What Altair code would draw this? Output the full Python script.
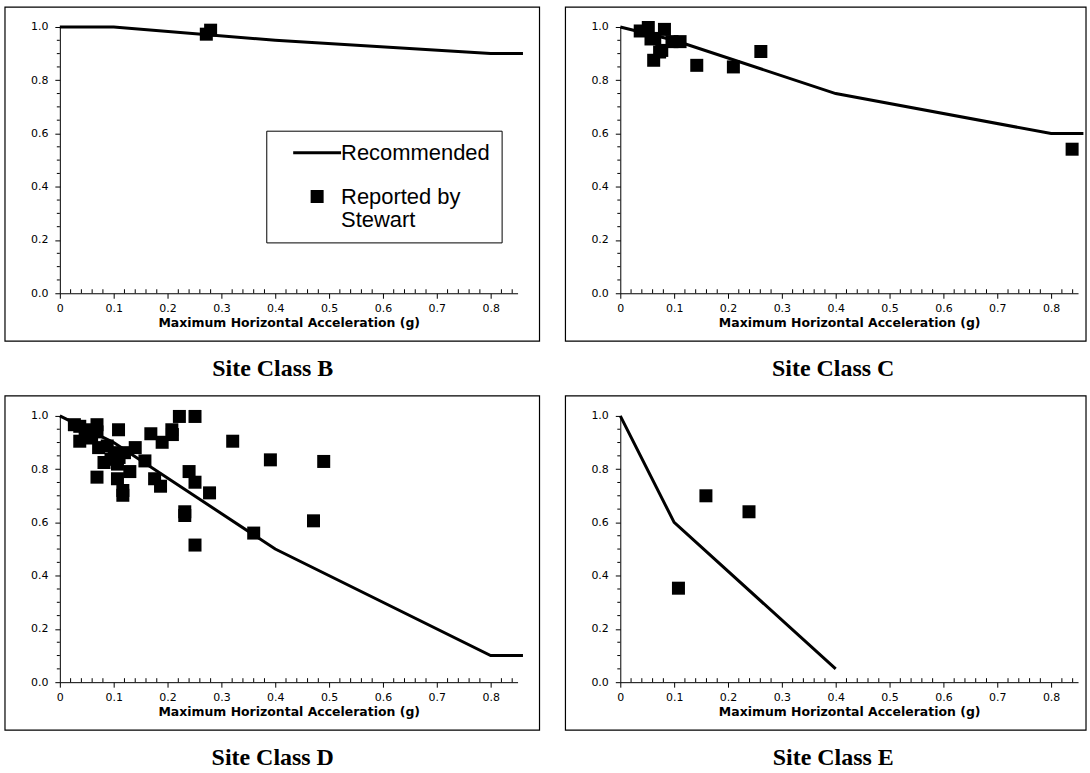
import altair as alt
import pandas as pd

# ---------------- data ----------------
line_x = [0.0, 0.1, 0.4, 0.8, 0.86]
line_B = [1.0, 1.0, 0.95, 0.90, 0.90]
line_C = [1.0, 0.95, 0.75, 0.60, 0.60]
line_D = [1.0, 0.90, 0.50, 0.10, 0.10]
line_x_E = [0.0, 0.1, 0.4]
line_E = [1.0, 0.60, 0.05]

pts_B_x = [0.272, 0.280]
pts_B_y = [0.973, 0.988]

pts_C_x = [0.037, 0.052, 0.082, 0.057, 0.064, 0.062, 0.073, 0.077, 0.096, 0.111, 0.142, 0.210, 0.261, 0.839]
pts_C_y = [0.985, 0.998, 0.991, 0.955, 0.957, 0.875, 0.906, 0.912, 0.945, 0.945, 0.856, 0.850, 0.908, 0.541]

pts_D_x = [0.027, 0.037, 0.037, 0.047, 0.053, 0.059, 0.069, 0.069, 0.069, 0.072, 0.082, 0.088,
           0.095, 0.101, 0.107, 0.107, 0.109, 0.110, 0.117, 0.117, 0.120, 0.130, 0.140, 0.158,
           0.169, 0.176, 0.187, 0.190, 0.208, 0.209, 0.222, 0.232, 0.232, 0.240, 0.251, 0.251,
           0.251, 0.278, 0.321, 0.360, 0.391, 0.471, 0.490]
pts_D_y = [0.967, 0.961, 0.905, 0.924, 0.948, 0.917, 0.967, 0.940, 0.770, 0.881, 0.825, 0.887,
           0.837, 0.862, 0.764, 0.819, 0.948, 0.844, 0.702, 0.720, 0.862, 0.791, 0.881, 0.831,
           0.933, 0.764, 0.736, 0.901, 0.948, 0.930, 0.998, 0.640, 0.626, 0.791, 0.751, 0.998,
           0.515, 0.711, 0.905, 0.560, 0.835, 0.606, 0.829]

pts_E_x = [0.108, 0.159, 0.239]
pts_E_y = [0.353, 0.700, 0.640]

x_title = "Maximum Horizontal Acceleration (g)"
legend_labels = ["Recommended", "Reported by Stewart"]

# axis ticks
x_major = [0.0, 0.1, 0.2, 0.3, 0.4, 0.5, 0.6, 0.7, 0.8]
y_major = [0.0, 0.2, 0.4, 0.6, 0.8, 1.0]
x_minor = [0.02, 0.04, 0.06, 0.08, 0.12, 0.14, 0.16, 0.18, 0.22, 0.24, 0.26, 0.28,
           0.32, 0.34, 0.36, 0.38, 0.42, 0.44, 0.46, 0.48, 0.52, 0.54, 0.56, 0.58,
           0.62, 0.64, 0.66, 0.68, 0.72, 0.74, 0.76, 0.78, 0.82, 0.84]
y_minor = [0.05, 0.1, 0.15, 0.25, 0.3, 0.35, 0.45, 0.5, 0.55, 0.65, 0.7, 0.75, 0.85, 0.9, 0.95]

W, H = 459, 267
TICK_FONT = "DejaVu Sans"

x_axis = alt.Axis(
    values=x_major,
    labelExpr="datum.value == 0 ? '0' : format(datum.value, '.1f')",
    tickSize=5, grid=False, domainColor="black", tickColor="black", labelColor="black",
    labelFont=TICK_FONT, labelFontSize=11, labelPadding=4, labelOverlap=False,
    title=x_title, titleFont=TICK_FONT, titleFontSize=12.5, titleFontWeight="bold",
    titleColor="black", titlePadding=3, labelFlush=False,
)
y_axis = alt.Axis(
    values=y_major, format=".1f",
    tickSize=5, grid=False, domainColor="black", tickColor="black", labelColor="black",
    labelFont=TICK_FONT, labelFontSize=11, labelPadding=7, labelOverlap=False, title=None,
)

xs = alt.Scale(domain=[0, 0.85], nice=False, zero=False)
ys = alt.Scale(domain=[0, 1.0], nice=False)

LEG = dict(
    title=None, orient="none", legendX=207, legendY=104,
    strokeColor="black", padding=11, fillColor="white",
    symbolOpacity=1, symbolFillColor="black", symbolStrokeColor="black",
    symbolStrokeWidth=0, symbolOffset=29,
    labelFont="Liberation Sans", labelFontSize=22,
    labelColor="black", labelLimit=300, rowPadding=22, labelOffset=13,
    labelExpr="datum.label == 'Reported by Stewart' ? ['Reported by', 'Stewart'] : datum.label",
)


def panel(lx, ly, px, py, name, legend=False, right_pad=22):
    ldf = pd.DataFrame({"x": lx, "y": ly})
    pdf = pd.DataFrame({"x": px, "y": py})
    frame = alt.Chart(alt.Data(values=[{}])).mark_rect(
        fill="white", fillOpacity=0, stroke="black", strokeWidth=1.2
    ).encode(
        x=alt.value(-55), x2=alt.value(W + right_pad),
        y=alt.value(-20), y2=alt.value(H + 48),
    )
    line = alt.Chart(ldf).mark_line(color="black", strokeWidth=3, clip=False).encode(
        x=alt.X("x:Q", scale=xs, axis=x_axis),
        y=alt.Y("y:Q", scale=ys, axis=y_axis),
    )
    xmin = alt.Chart(pd.DataFrame({"t": x_minor})).mark_rule(color="black", strokeWidth=1).encode(
        x=alt.X("t:Q", scale=xs), y=alt.value(H), y2=alt.value(H - 4)
    )
    ymin = alt.Chart(pd.DataFrame({"t": y_minor})).mark_rule(color="black", strokeWidth=1).encode(
        y=alt.Y("t:Q", scale=ys), x=alt.value(0), x2=alt.value(-3)
    )
    pts = alt.Chart(pdf).mark_square(color="black", size=170, opacity=1).encode(
        x=alt.X("x:Q", scale=xs), y=alt.Y("y:Q", scale=ys)
    )
    layers = [frame, line, xmin, ymin, pts]
    if legend:
        leg_df = pd.DataFrame({"series": legend_labels})
        leg = alt.Chart(leg_df).mark_point(
            opacity=0, filled=True, fill="black"
        ).encode(
            x=alt.value(0), y=alt.value(0),
            shape=alt.Shape("series:N",
                            scale=alt.Scale(domain=legend_labels,
                                            range=["M-2.4,-0.15H2.4V0.15H-2.4Z", "square"]),
                            legend=alt.Legend(**LEG)),
            size=alt.Size("series:N", scale=alt.Scale(domain=legend_labels, range=[400, 170]),
                          legend=alt.Legend(**LEG)),
        )
        layers.append(leg)
    return alt.layer(*layers).properties(
        width=W, height=H,
        view=alt.ViewBackground(stroke="transparent", strokeWidth=0),
        title=alt.TitleParams(name, orient="bottom", font="Liberation Serif", fontSize=24,
                              fontWeight="bold", color="black", offset=15, dx=-16),
    )


pB = panel(line_x, line_B, pts_B_x, pts_B_y, "Site Class B", legend=True)
pC = panel(line_x, line_C, pts_C_x, pts_C_y, "Site Class C", right_pad=8)
pD = panel(line_x, line_D, pts_D_x, pts_D_y, "Site Class D")
pE = panel(line_x_E, line_E, pts_E_x, pts_E_y, "Site Class E", right_pad=8)

row1 = alt.hconcat(pB, pC, spacing=24)
row2 = alt.hconcat(pD, pE, spacing=24)
chart = alt.vconcat(row1, row2, spacing=14).resolve_scale(
    shape="independent", size="independent"
).resolve_legend(shape="independent", size="independent").configure_view(
    stroke="transparent", strokeWidth=0
).configure(
    background="white", padding={"left": 4, "top": 5, "right": 0, "bottom": 0}
)

chart.save("out.html", embed_options={"renderer": "svg", "actions": False})
